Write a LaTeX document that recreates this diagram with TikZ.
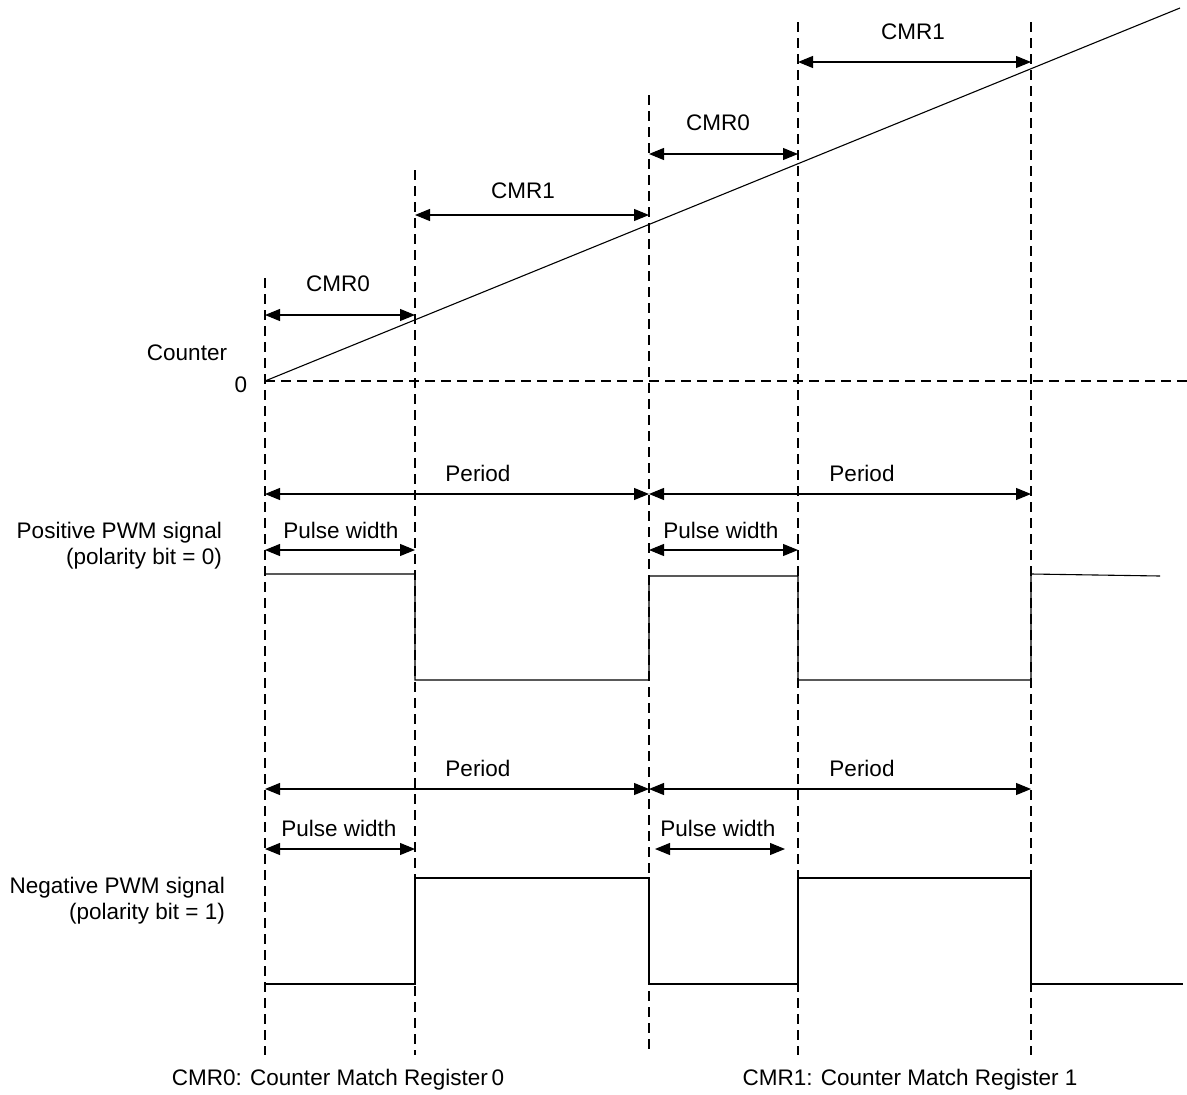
\documentclass[tikz,border=0pt]{standalone}
\usepackage{fontspec}
\setmainfont{Liberation Sans}
\usetikzlibrary{arrows.meta}
\begin{document}
\begin{tikzpicture}[x=1pt,y=-1pt,
  lbl/.style={inner sep=0pt,font=\fontsize{22.5}{26}\selectfont},
  guide/.style={line width=1.2pt,dash pattern=on 10pt off 6pt},
  dim/.style={line width=1.1pt,{Triangle[length=15pt,width=12pt]}-{Triangle[length=15pt,width=12pt]}},
  sig/.style={line width=1.1pt}]
\useasboundingbox (0,0) rectangle (1187,1095);
% guides
\draw[guide] (265,278) -- (265,1055);
\draw[guide] (415,170) -- (415,1055);
\draw[guide] (649,95) -- (649,1055);
\draw[guide] (798,22) -- (798,1055);
\draw[guide] (1031,22) -- (1031,1055);
\draw[guide] (265,381) -- (1187,381);
% counter
\coordinate (c0) at (265,381);
\coordinate (c1) at (1180,8);
\draw[sig] (c0) -- (c1);
\node[lbl] (counter) at (187,353) {Counter};
\node[lbl] (zero) at (241,385) {0};
% CMR dims
\draw[dim] (265,315) -- (415,315);
\node[lbl] (l1) at (338,284) {CMR0};
\draw[dim] (415,215) -- (649,215);
\node[lbl] (l2) at (523,191) {CMR1};
\draw[dim] (649,154) -- (798,154);
\node[lbl] (l3) at (718,123) {CMR0};
\draw[dim] (798,62) -- (1031,62);
\node[lbl] (l4) at (913,32) {CMR1};
% positive
\draw[dim] (265,494) -- (649,494);
\draw[dim] (649,494) -- (1031,494);
\node[lbl] (p1) at (478,473) {Period};
\node[lbl] (p2) at (862,473) {Period};
\draw[dim] (265,550) -- (415,550);
\draw[dim] (649,550) -- (798,550);
\node[lbl] (w1) at (341,530) {Pulse width};
\node[lbl] (w2) at (721,530) {Pulse width};
\node[lbl,anchor=base east] (pos1) at (222,538) {Positive PWM signal};
\node[lbl,anchor=base east] (pos2) at (222,564) {(polarity bit = 0)};
\draw[sig] (265,574) -- (415,574) -- (415,680) -- (649,680) -- (649,576) -- (798,576) -- (798,680) -- (1031,680) -- (1031,574) -- (1160,576);
% negative
\draw[dim] (265,789) -- (649,789);
\draw[dim] (649,789) -- (1031,789);
\node[lbl] (p3) at (478,768) {Period};
\node[lbl] (p4) at (862,768) {Period};
\draw[dim] (265,849) -- (415,849);
\draw[dim] (655,849) -- (785,849);
\node[lbl] (w3) at (339,828) {Pulse width};
\node[lbl] (w4) at (718,828) {Pulse width};
\node[lbl,anchor=base east] (neg1) at (225,893) {Negative PWM signal};
\node[lbl,anchor=base east] (neg2) at (225,919) {(polarity bit = 1)};
\draw[sig] (265,984) -- (415,984) -- (415,878) -- (649,878) -- (649,984) -- (798,984) -- (798,878) -- (1031,878) -- (1031,984) -- (1183,984);
% legend
\node[lbl] (leg0) at (338,1080) {CMR0: Counter Match Register\,0};
\node[lbl] (leg1) at (910,1080) {CMR1: Counter Match Register 1};
\end{tikzpicture}
\end{document}
